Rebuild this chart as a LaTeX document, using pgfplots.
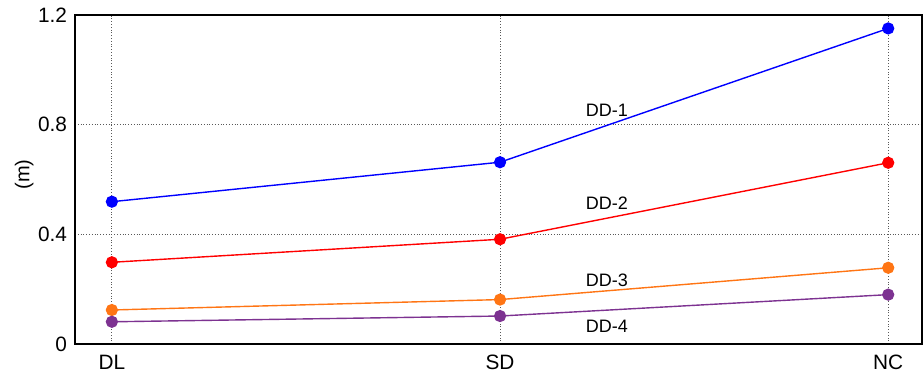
\documentclass[border=0pt]{standalone}
\usepackage{pgfplots}
\pgfplotsset{compat=1.18}
\usepackage{fontspec}
\setmainfont{Liberation Sans}

\definecolor{ddblue}{RGB}{0,0,255}
\definecolor{ddred}{RGB}{255,0,0}
\definecolor{ddorange}{RGB}{255,117,20}
\definecolor{ddpurple}{RGB}{125,50,145}

\begin{document}
\begin{tikzpicture}
\useasboundingbox (-37.5pt,-17pt) rectangle (424pt,172pt);
\begin{axis}[
  at={(0,0)}, anchor=south west,
  scale only axis,
  width=423.5pt, height=164.5pt,
  xmin=-0.095, xmax=2.087,
  ymin=0, ymax=1.2,
  xtick={0,1,2},
  xticklabels={DL,SD,NC},
  ytick={0,0.4,0.8,1.2},
  yticklabels={0,0.4,0.8,1.2},
  major tick length=0pt,
  grid=major,
  grid style={black!65, densely dotted, line width=0.5pt},
  axis line style={black, line width=0.75pt},
  tick label style={font=\fontsize{10.4}{12}\selectfont},
  /pgf/number format/assume math mode=true,
  xticklabel style={yshift=-2pt},
  yticklabel style={xshift=-0.5pt},
  ylabel={(m)},
  ylabel style={font=\fontsize{10}{12}\selectfont, at={(axis description cs:-0.06,0.515)}, anchor=center},
  every axis plot/.append style={line width=0.7pt, mark=*, mark size=2.7pt},
  clip=false,
]
\addplot[color=ddblue, mark options={fill=ddblue}] coordinates {(0,0.519) (1,0.663) (2,1.151)};
\addplot[color=ddred, mark options={fill=ddred}] coordinates {(0,0.298) (1,0.382) (2,0.661)};
\addplot[color=ddorange, mark options={fill=ddorange}] coordinates {(0,0.124) (1,0.162) (2,0.278)};
\addplot[color=ddpurple, mark options={fill=ddpurple}] coordinates {(0,0.081) (1,0.102) (2,0.180)};

\node[font=\fontsize{9}{11}\selectfont] at (axis cs:1.275,0.851) {DD-1};
\node[font=\fontsize{9}{11}\selectfont] at (axis cs:1.275,0.515) {DD-2};
\node[font=\fontsize{9}{11}\selectfont] at (axis cs:1.275,0.233) {DD-3};
\node[font=\fontsize{9}{11}\selectfont] at (axis cs:1.275,0.063) {DD-4};
\end{axis}
\end{tikzpicture}
\end{document}
